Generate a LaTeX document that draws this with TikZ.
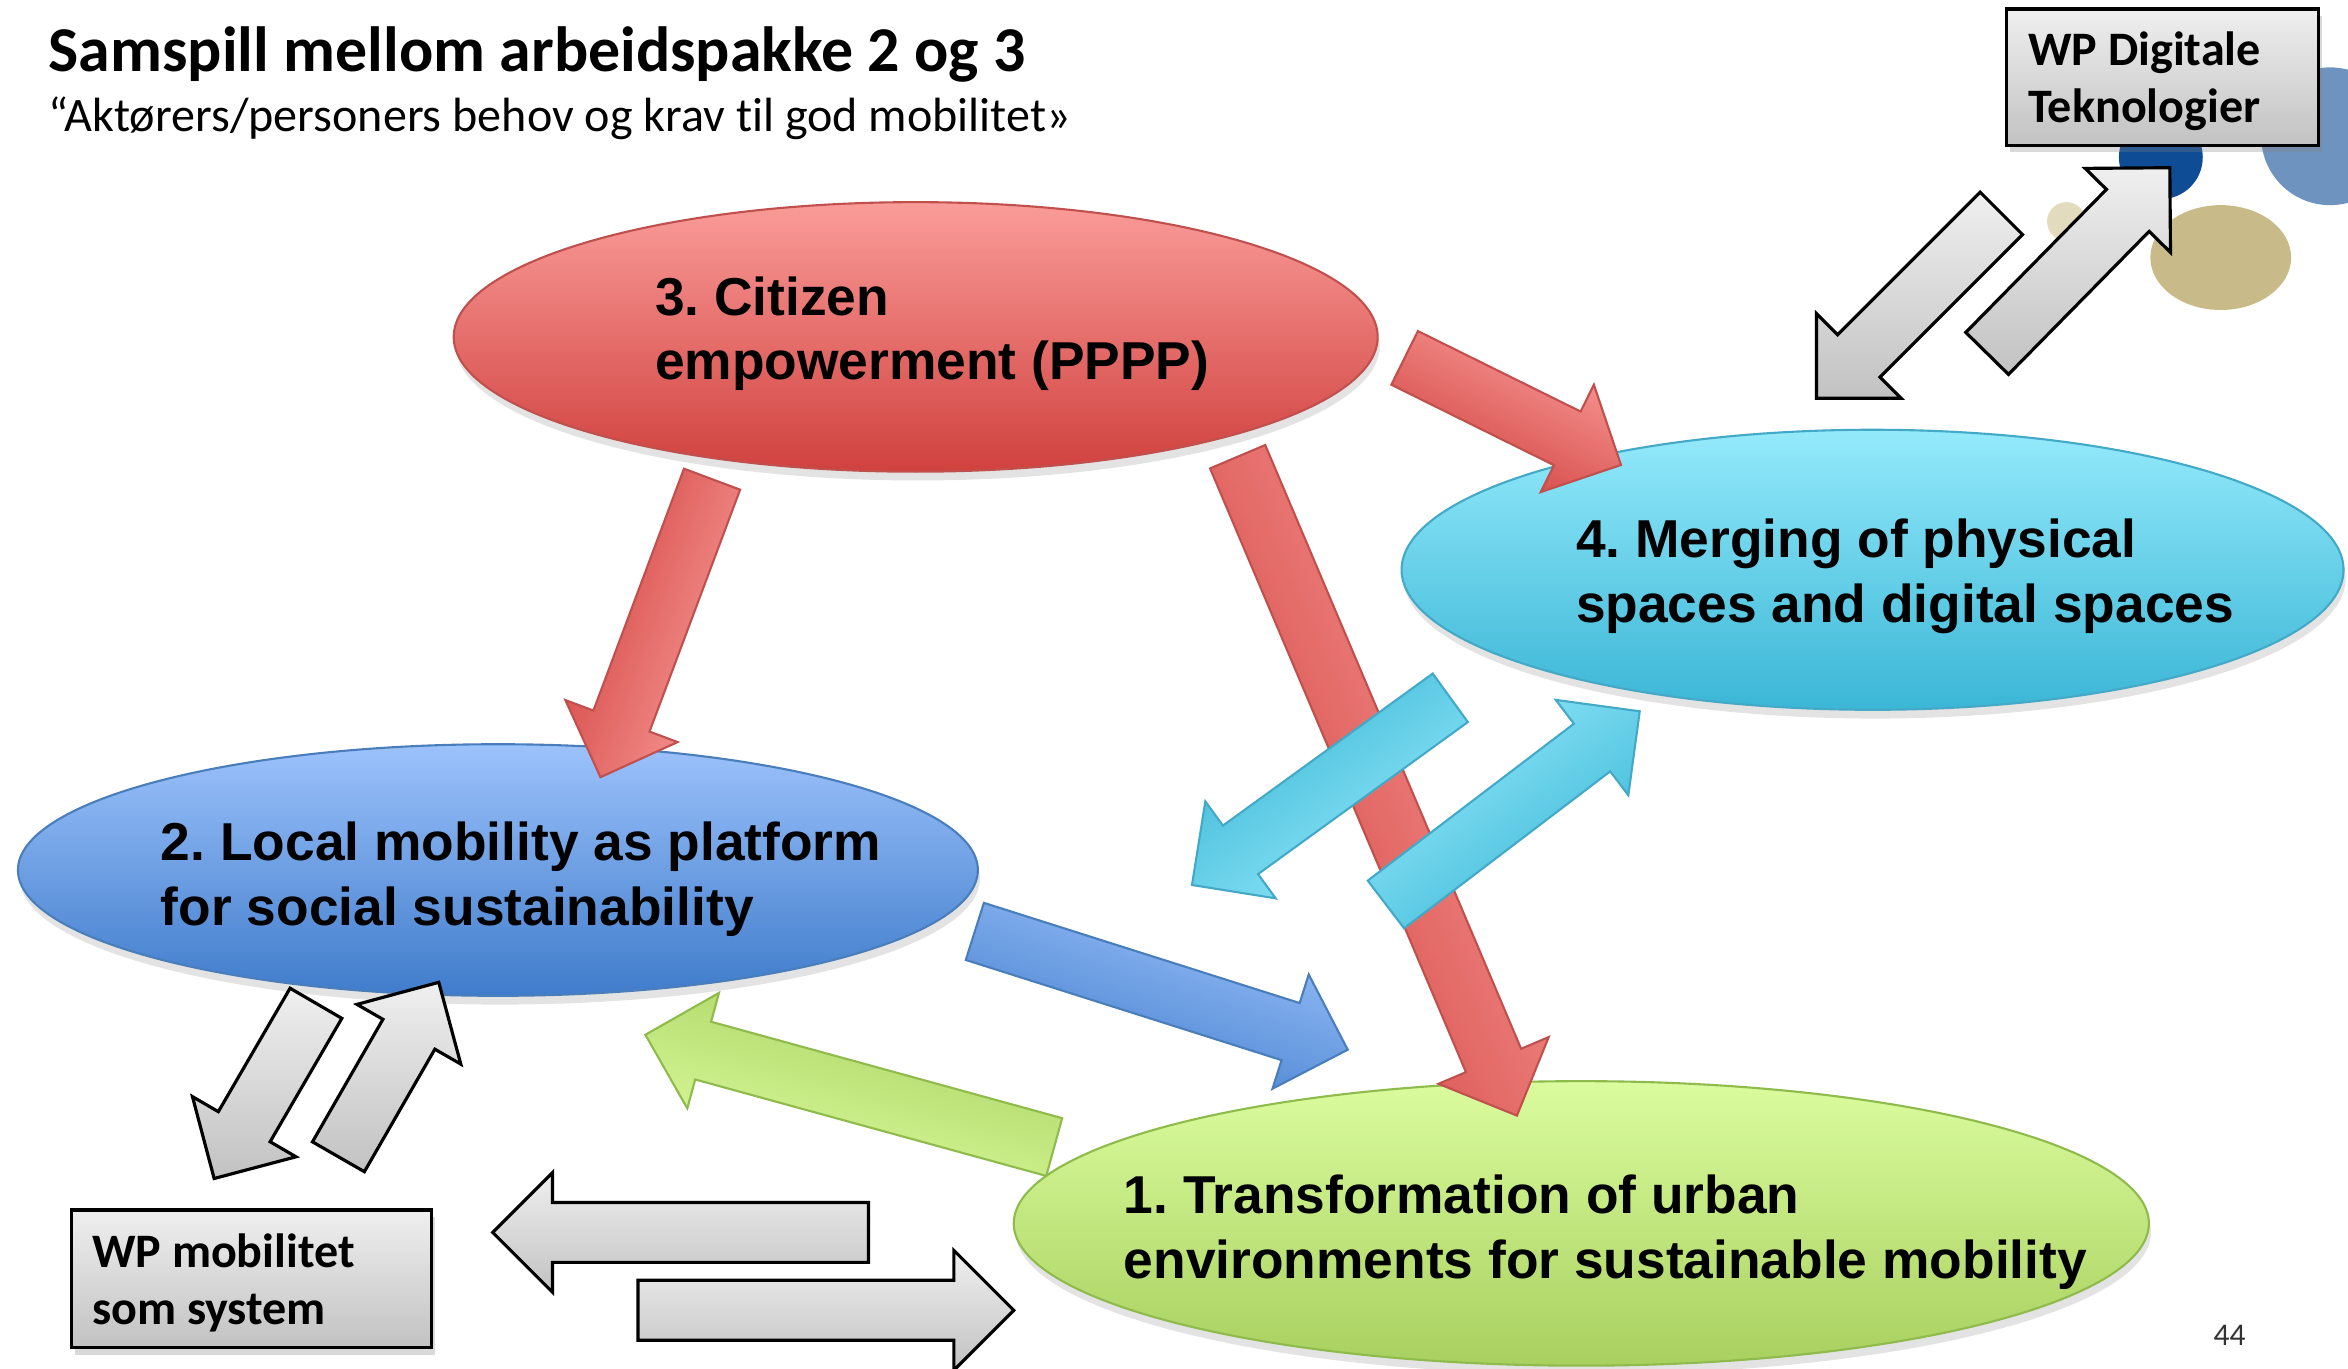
\documentclass[tikz,border=0pt]{standalone}
\usepackage{fontspec}
\setmainfont{Carlito}[Ligatures=NoCommon]
\newfontfamily\bubblefont{Liberation Sans}
\usetikzlibrary{calc,shapes.geometric,shadows}
\frenchspacing

\definecolor{redlight}{HTML}{FA9C99}
\definecolor{reddark}{HTML}{D0413E}
\definecolor{redline}{HTML}{C0504D}
\definecolor{cyanlight}{HTML}{94EAFB}
\definecolor{cyandark}{HTML}{3BB6D6}
\definecolor{cyanline}{HTML}{43A9C6}
\definecolor{bluelight}{HTML}{9CC2FB}
\definecolor{bluedark}{HTML}{3F7CCB}
\definecolor{blueline}{HTML}{4A7EBB}
\definecolor{greenlight}{HTML}{DBFC9E}
\definecolor{greendark}{HTML}{A8D05F}
\definecolor{greenline}{HTML}{8EBB4B}
\definecolor{graylight}{HTML}{EFEFEF}
\definecolor{graydark}{HTML}{C2C2C2}
\definecolor{dotblue}{HTML}{0E4C96}
\definecolor{dotsteel}{HTML}{6E93BF}
\definecolor{dottan}{HTML}{C9BB89}
\definecolor{dotsand}{HTML}{E2DBBD}

\tikzset{
bubble/.style={ellipse,inner sep=0pt,line width=0.6pt,drop shadow={opacity=0.22,shadow xshift=0.6pt,shadow yshift=-2.5pt}},
bubbletext/.style={anchor=west,align=left,inner sep=0pt,font=\bubblefont\bfseries\fontsize{15.2}{18.4}\selectfont},
wpbox/.style={draw=black,line width=0.9pt,top color=graylight,bottom color=graydark,inner sep=0pt,drop shadow={opacity=0.3,shadow xshift=1pt,shadow yshift=-2pt}},
wptext/.style={align=left,inner sep=0pt,font=\bfseries\fontsize{13.7}{16.2}\selectfont},
redarrow/.style={draw=redline,line width=0.6pt,top color=reddark,bottom color=redlight},
cyanarrow/.style={draw=cyanline,line width=0.6pt,top color=cyandark,bottom color=cyanlight},
bluearrow/.style={draw=blueline,line width=0.6pt,top color=bluedark,bottom color=bluelight},
greenarrow/.style={draw=greenline,line width=0.6pt,top color=greendark,bottom color=greenlight},
grayarrow/.style={draw=black,line width=0.9pt,top color=graylight,bottom color=graydark},
}

% tail, tip, name
\newcommand{\blockarrow}[4][]{%
\coordinate (#4-h) at ($(#3)!0.6cm!(#2)$);
\path[#1] ($(#2)!0.3cm!90:(#3)$)--($(#4-h)!0.3cm!90:(#3)$)--($(#4-h)!0.6cm!90:(#3)$)--(#3)--($(#4-h)!0.6cm!-90:(#3)$)--($(#4-h)!0.3cm!-90:(#3)$)--($(#2)!0.3cm!-90:(#3)$)--cycle;}

\begin{document}
\begin{tikzpicture}[x=0.015cm,y=-0.015cm]
\useasboundingbox (0,0) rectangle (1568,914);
\clip (0,0) rectangle (1568,914);

\fill[dotsteel] (1556,91) circle[radius=46];
\fill[dotblue] (1443,105) circle[radius=28];
\fill[dottan] (1483,172) ellipse[x radius=47,y radius=35];
\fill[dotsand] (1380,148) circle[radius=13];

\node[anchor=base west,inner sep=0pt,font=\bfseries\fontsize{18.2}{22}\selectfont] (title) at (32,47.5) {Samspill mellom arbeidspakke 2 og 3};
\node[anchor=base west,inner sep=0pt,font=\fontsize{13.7}{16}\selectfont] (subtitle) at (32,88) {“Aktørers/personers behov og krav til god mobilitet»};

%
\coordinate (traloc-s) at (704,766); \coordinate (traloc-e) at (431,691);
\blockarrow[greenarrow,shading angle=-16]{traloc-s}{traloc-e}{traloc}

\node[bubble,minimum width=9.255cm,minimum height=2.7cm,draw=redline,top color=redlight,bottom color=reddark] (citizen) at (611.5,225) {};
\node[bubble,minimum width=9.435cm,minimum height=2.805cm,draw=cyanline,top color=cyanlight,bottom color=cyandark] (merging) at (1250.5,380.5) {};
\node[bubble,minimum width=9.615cm,minimum height=2.52cm,draw=blueline,top color=bluelight,bottom color=bluedark] (local) at (332.5,581) {};
\node[bubble,minimum width=11.37cm,minimum height=2.85cm,draw=greenline,top color=greenlight,bottom color=greendark] (transform) at (1056,817) {};

\node[bubbletext] (citizen-t) at (437,223) {3. Citizen\\empowerment (PPPP)};
\node[bubbletext] (merging-t) at (1052,385) {4. Merging of physical\\spaces and digital spaces};
\node[bubbletext] (local-t) at (107,587) {2. Local mobility as platform\\for social sustainability};
\node[bubbletext] (transform-t) at (750,823) {1. Transformation of urban\\environments for sustainable mobility};

\node[wpbox,minimum width=3.12cm,minimum height=1.365cm] (wpdig) at (1444,51.5) {};
\node[wptext,anchor=west] (wpdig-t) at (1354,54.5) {WP Digitale\\Teknologier};
\node[wpbox,minimum width=3.6cm,minimum height=1.38cm] (wpmob) at (168,854) {};
\node[wptext,anchor=west] (wpmob-t) at (61,857) {WP mobilitet\\som system};

%
\coordinate (citloc-s) at (475.5,320); \coordinate (citloc-e) at (401,519);
\coordinate (cittra-s) at (826.5,305); \coordinate (cittra-e) at (1013,745);
\coordinate (citmer-s) at (938,239); \coordinate (citmer-e) at (1082.5,310.5);
\blockarrow[redarrow,shading angle=70]{citloc-s}{citloc-e}{citloc}
\blockarrow[redarrow,shading angle=113]{cittra-s}{cittra-e}{cittra}
\blockarrow[redarrow,shading angle=154]{citmer-s}{citmer-e}{citmer}

\coordinate (loctra-s) at (651,622); \coordinate (loctra-e) at (900,701);
\blockarrow[bluearrow,shading angle=162]{loctra-s}{loctra-e}{loctra}

\coordinate (merloc-s) at (968.5,466); \coordinate (merloc-e) at (796,591);
\coordinate (tramer-s) at (925.5,604); \coordinate (tramer-e) at (1095,475);
\blockarrow[cyanarrow,shading angle=36]{merloc-s}{merloc-e}{merloc}
\blockarrow[cyanarrow,shading angle=217]{tramer-s}{tramer-e}{tramer}

%
\coordinate (locwp-s) at (211,670); \coordinate (locwp-e) at (143,787);
\coordinate (wploc-s) at (226,772.5); \coordinate (wploc-e) at (293,656);
\coordinate (trawp-s) at (580,823); \coordinate (trawp-e) at (329,823);
\coordinate (wptra-s) at (426,875); \coordinate (wptra-e) at (677,875);
\coordinate (digmer-s) at (1336.5,142.5); \coordinate (digmer-e) at (1213,266);
\coordinate (merdig-s) at (1327,236); \coordinate (merdig-e) at (1449,112);
\foreach \a in {locwp,wploc,trawp,wptra,digmer,merdig} \blockarrow[grayarrow]{\a-s}{\a-e}{\a};

\node[font=\fontsize{9}{10}\selectfont,text=black!80] (pagenum) at (1489,892) {44};
\end{tikzpicture}
\end{document}
